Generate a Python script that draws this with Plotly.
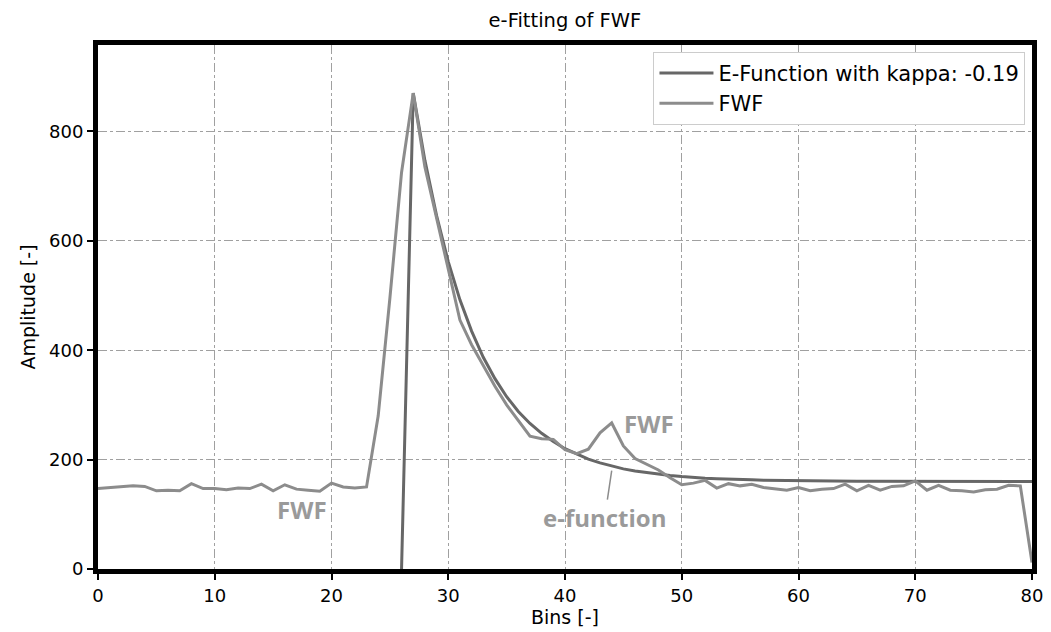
import plotly.graph_objects as go

# ---- data ----
fwf_x = list(range(0, 81))
fwf_y = [147, 149, 151, 152, 151, 143, 144, 143, 156, 147,
         147, 145, 148, 147, 155, 143, 154, 146, 144, 142,
         157, 150, 148, 150, 280, 495, 725, 870, 735, 640,
         550, 455, 410, 372, 334, 300, 272, 243, 238, 237,
         218, 211, 219, 249, 267, 225, 202, 191, 181, 167,
         154, 157, 162, 148, 156, 152, 155, 149, 146, 144,
         149, 143, 146, 147, 155, 143, 153, 144, 151, 152,
         161, 144, 153, 144, 143, 141, 145, 146, 153, 152,
         12]

ef_x = list(range(26, 81))
ef_y = [0, 870, 747, 646, 562, 492, 435, 387, 348, 315,
        288, 266, 248, 233, 220, 210, 201, 194, 188, 183,
        179, 176, 173, 171, 169, 167, 166, 165, 164, 163.5,
        163, 162.4, 162, 161.6, 161.3, 161, 160.9, 160.7, 160.6, 160.5,
        160.4, 160.3, 160.3, 160.2, 160.2, 160.1, 160.1, 160.1, 160.1, 160,
        160, 160, 160, 160, 160]

x_ticks = [0, 10, 20, 30, 40, 50, 60, 70, 80]
y_ticks = [0, 200, 400, 600, 800]

title = "e-Fitting of FWF"
legend_ef = "E-Function with kappa: -0.19"
legend_fwf = "FWF"

FONT = "DejaVu Sans"
ANN_FONT = "Open Sans"

fig = go.Figure()
fig.add_trace(go.Scatter(x=ef_x, y=ef_y, mode="lines", name=legend_ef,
                         line=dict(color="#676767", width=3)))
fig.add_trace(go.Scatter(x=fwf_x, y=fwf_y, mode="lines", name=legend_fwf,
                         line=dict(color="#8c8c8c", width=3)))

ann_color = "#9a9a9a"
fig.add_annotation(x=17.5, y=109, text="<b>FWF</b>", showarrow=False,
                   font=dict(family=ANN_FONT, size=24, color=ann_color))
fig.add_annotation(x=47.2, y=266, text="<b>FWF</b>", showarrow=False,
                   font=dict(family=ANN_FONT, size=24, color=ann_color))
fig.add_annotation(x=44.0, y=180, ax=43.4, ay=94, axref="x", ayref="y",
                   text="<b>e-function</b>", showarrow=True, arrowhead=0,
                   arrowwidth=1.5, arrowcolor="#8c8c8c", standoff=0,
                   font=dict(family=ANN_FONT, size=24, color=ann_color))

axis_common = dict(showline=True, linewidth=5, linecolor="black", mirror=True,
                   ticks="outside", ticklen=6, tickwidth=2, tickcolor="black",
                   showgrid=True, gridcolor="#a0a0a0", gridwidth=1, griddash="dashdot",
                   zeroline=False, automargin=False,
                   tickfont=dict(family=FONT, size=18, color="black"))

fig.update_xaxes(range=[0, 80], tickvals=x_ticks,
                 title=dict(text="Bins [-]", font=dict(family=FONT, size=19, color="black"), standoff=3),
                 **axis_common)
fig.update_yaxes(range=[0, 958], tickvals=y_ticks,
                 title=dict(text="Amplitude [-]", font=dict(family=FONT, size=19, color="black"), standoff=10),
                 **axis_common)

fig.update_layout(
    width=1051, height=632,
    margin=dict(l=98, r=19, t=45, b=63),
    paper_bgcolor="white", plot_bgcolor="white",
    title=dict(text=title, x=0.5375, xanchor="center", y=0.968, yanchor="middle",
               font=dict(family=FONT, size=19.5, color="black")),
    legend=dict(x=0.993, xanchor="right", y=0.987, yanchor="top",
                bgcolor="white", bordercolor="#cccccc", borderwidth=1,
                font=dict(family=FONT, size=21, color="black"),
                itemwidth=54, tracegroupgap=0),
    font=dict(family=FONT),
)

fig.write_html("out.html",
               config={"displayModeBar": False},
               post_script="document.body.style.margin='0';document.body.style.overflow='hidden';")
